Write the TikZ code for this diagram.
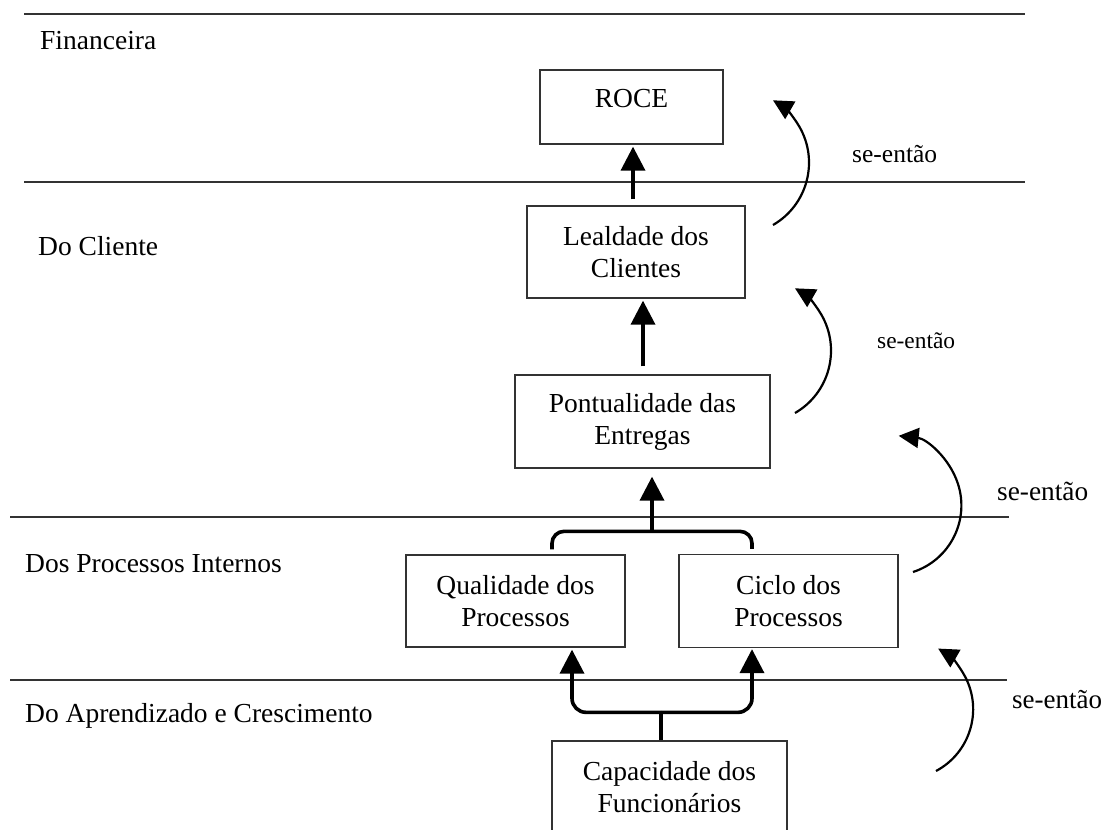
\documentclass[tikz,border=0pt]{standalone}
\usepackage{fontspec}
\setmainfont{Liberation Serif}
\usetikzlibrary{arrows.meta,calc}

\begin{document}
\begin{tikzpicture}[x=1pt,y=-1pt,
  rule/.style={draw=black!80,line width=1.4pt},
  box/.style={draw=black!80,line width=1.3pt,align=center,inner sep=0pt,
    font=\fontsize{27.5}{32}\selectfont},
  lbl/.style={anchor=base west,inner sep=0pt,font=\fontsize{27.5}{32}\selectfont},
  sel/.style={anchor=base west,inner sep=0pt},
  bar/.style={line width=3.6pt},
  thk/.style={line width=3.6pt,-{Triangle[length=24pt,width=24pt]}},
  cur/.style={line width=2.2pt,-{Triangle[length=20pt,width=20pt]}}
]
\useasboundingbox (0,0) rectangle (1106,830);

% perspective separators
\draw[rule] (24,14) -- (1025,14);
\draw[rule] (24,182) -- (1025,182);
\draw[rule] (10,517) -- (1009,517);
\draw[rule] (10,680) -- (1007,680);

% perspective names
\node[lbl] (pfin) at (40,49) {Financeira};
\node[lbl] (pcli) at (38,255) {Do Cliente};
\node[lbl] (ppro) at (25,572) {Dos Processos Internos};
\node[lbl] (papr) at (25,722) {Do Aprendizado e Crescimento};

% objectives
\node[box,minimum width=183pt,minimum height=74pt,text height=19pt,text depth=19pt]
  (roce) at (631.5,107) {ROCE};
\node[box,minimum width=218pt,minimum height=92pt] (lea) at (636,252)
  {Lealdade dos\\Clientes};
\node[box,minimum width=255pt,minimum height=93pt] (pon) at (642.5,421.5)
  {Pontualidade das\\Entregas};
\node[box,minimum width=219pt,minimum height=92pt] (qua) at (515.5,601)
  {Qualidade dos\\Processos};
\node[box,minimum width=219pt,minimum height=93pt] (cic) at (788.5,601)
  {Ciclo dos\\Processos};
\node[box,minimum width=235pt,minimum height=92pt] (cap) at (669.5,787)
  {Capacidade dos\\Funcionários};

% cause-and-effect links
\draw[thk] ($(lea.north)+(-3,-6)$) -- ($(roce.south)+(1.5,2)$);
\draw[thk] ($(pon.north)+(0.5,-8)$) -- ($(lea.south)+(7,2)$);

\coordinate (qtop) at ($(qua.north)+(36.5,-5)$);
\coordinate (ctop) at ($(cic.north)+(-36.5,-5)$);
\coordinate (join) at ($(qua.north)+(136.5,-23)$);
\draw[bar,rounded corners=12pt] (qtop) -- ++(0,-18) -| (ctop);
\draw[thk] (join) -- ($(pon.south)+(9.5,8)$);

\coordinate (split) at ($(cap.north)+(-8.5,-28)$);
\draw[bar] ($(cap.north)+(-8.5,0)$) -- (split);
\draw[thk,rounded corners=14pt] (split) -| ($(qua.south)+(56.5,2)$);
\draw[thk,rounded corners=14pt] (split) -| ($(cic.south)+(-36.5,1)$);

% if-then arrows
\coordinate (a1) at (773,225);
\coordinate (a2) at (795,413);
\coordinate (a3) at (913,572);
\coordinate (a4) at (936,771);
\draw[cur] (a1) arc[start angle=-60,end angle=60,radius=72pt];
\draw[cur] (a2) arc[start angle=-60,end angle=60,radius=72pt];
\draw[cur] (a3) arc[start angle=-72,end angle=84,radius=70pt];
\draw[cur] (a4) arc[start angle=-62,end angle=60,radius=70pt];

\node[sel,font=\fontsize{25.5}{30}\selectfont] (s1) at (852,162) {se-então};
\node[sel,font=\fontsize{23.4}{28}\selectfont] (s2) at (877,348) {se-então};
\node[sel,font=\fontsize{27.3}{32}\selectfont] (s3) at (997,500) {se-então};
\node[sel,font=\fontsize{27}{32}\selectfont] (s4) at (1012,708) {se-então};
\end{tikzpicture}
\end{document}
